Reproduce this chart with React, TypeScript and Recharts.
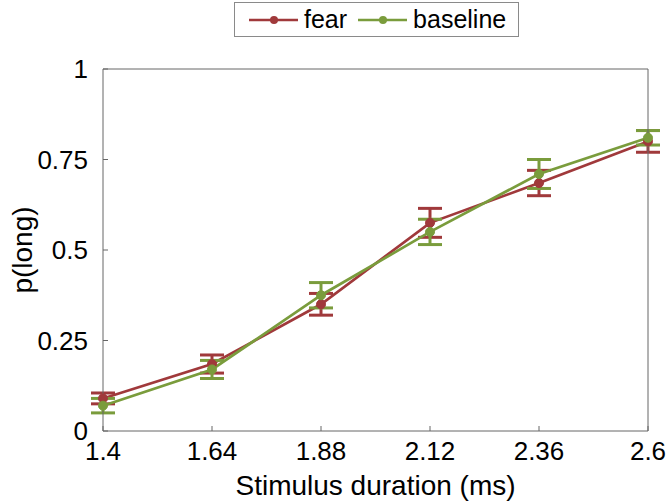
import { LineChart, Line, XAxis, YAxis, ErrorBar } from 'recharts'

const durations = [1.4, 1.64, 1.88, 2.12, 2.36, 2.6]
const fear = [0.09, 0.185, 0.35, 0.575, 0.685, 0.8]
const fearErr = [0.015, 0.025, 0.03, 0.04, 0.035, 0.03]
const baseline = [0.07, 0.17, 0.375, 0.55, 0.71, 0.81]
const baselineErr = [0.02, 0.025, 0.035, 0.035, 0.04, 0.02]
const yTicks = [0, 0.25, 0.5, 0.75, 1]
const yTickLabels = ['0', '0.25', '0.5', '0.75', '1']

const RED = '#a0393b'
const GREEN = '#7a9c3c'
const FONT = 'Helvetica, "Liberation Sans", Arial, sans-serif'

const data = durations.map((d, i) => ({
  x: d,
  fear: fear[i],
  fearErr: fearErr[i],
  baseline: baseline[i],
  baselineErr: baselineErr[i],
}))

function LegendItem({ color, label }: { color: string; label: string }) {
  return (
    <span style={{ display: 'inline-flex', alignItems: 'center', marginRight: 11 }}>
      <svg width={49} height={12} style={{ marginRight: 6 }}>
        <line x1={0} y1={6} x2={49} y2={6} stroke={color} strokeWidth={2.5} />
        <circle cx={25} cy={6} r={4} fill={color} />
      </svg>
      <span>{label}</span>
    </span>
  )
}

export default function App() {
  const tickStyle = { fill: '#000', fontSize: 26, fontFamily: FONT }
  return (
    <div style={{ position: 'absolute', left: 0, top: 0, width: 670, height: 504, background: '#fff', fontFamily: FONT }}>
      <div
        style={{
          position: 'absolute',
          left: 234,
          top: 2,
          width: 285,
          height: 35,
          border: '1px solid #8a8a8a',
          boxSizing: 'border-box',
          display: 'flex',
          alignItems: 'center',
          paddingLeft: 14,
          fontSize: 25,
          color: '#000',
          whiteSpace: 'nowrap',
        }}
      >
        <LegendItem color={RED} label="fear" />
        <LegendItem color={GREEN} label="baseline" />
      </div>
      <LineChart width={670} height={504} data={data} margin={{ top: 68, right: 21, bottom: 0, left: 0 }}>
        <XAxis
          dataKey="x"
          type="number"
          domain={[1.4, 2.6]}
          ticks={durations}
          tickFormatter={(v: number) => String(v)}
          tickSize={-5}
          tickMargin={16}
          height={73}
          stroke="#666"
          tick={tickStyle}
          interval={0}
          label={{ value: 'Stimulus duration (ms)', position: 'insideBottom', offset: 9, fill: '#000', fontSize: 28, fontFamily: FONT }}
        />
        <XAxis
          xAxisId="top"
          orientation="top"
          dataKey="x"
          type="number"
          domain={[1.4, 2.6]}
          ticks={durations}
          tickSize={-5}
          tick={false}
          height={1}
          stroke="#666"
        />
        <YAxis
          type="number"
          domain={[0, 1]}
          ticks={yTicks}
          tickFormatter={(v: number) => yTickLabels[yTicks.indexOf(v)] ?? String(v)}
          tickSize={-5}
          tickMargin={20}
          width={103}
          stroke="#666"
          tick={tickStyle}
          interval={0}
          label={{ value: 'p(long)', angle: -90, position: 'insideLeft', offset: 22, fill: '#000', fontSize: 28, fontFamily: FONT, style: { textAnchor: 'middle' } }}
        />
        <YAxis
          yAxisId="right"
          orientation="right"
          type="number"
          domain={[0, 1]}
          ticks={yTicks}
          tickSize={-5}
          tick={false}
          width={1}
          stroke="#666"
        />
        <Line
          dataKey="fear"
          stroke={RED}
          strokeWidth={2.7}
          dot={{ r: 4.5, fill: RED, stroke: RED, strokeWidth: 1 }}
          isAnimationActive={false}
        >
          <ErrorBar dataKey="fearErr" width={12} stroke={RED} strokeWidth={3} />
        </Line>
        <Line
          dataKey="baseline"
          stroke={GREEN}
          strokeWidth={2.7}
          dot={{ r: 4.5, fill: GREEN, stroke: GREEN, strokeWidth: 1 }}
          isAnimationActive={false}
        >
          <ErrorBar dataKey="baselineErr" width={12} stroke={GREEN} strokeWidth={3} />
        </Line>
      </LineChart>
    </div>
  )
}
